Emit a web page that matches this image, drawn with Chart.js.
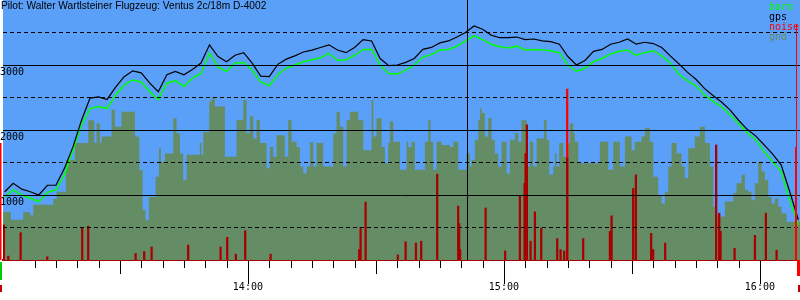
<!DOCTYPE html>
<html><head><meta charset="utf-8">
<script src="https://cdn.jsdelivr.net/npm/chart.js@4.4.1/dist/chart.umd.min.js"></script>
<style>html,body{margin:0;padding:0;background:#fff}#wrap{width:800px;height:300px;position:relative}</style>
</head><body><div id="wrap"><canvas id="c" width="800" height="300"></canvas></div>
<script>
const chartTitle = 'Pilot: Walter Wartlsteiner Flugzeug: Ventus 2c/18m D-4002';
const legendNames = ['baro', 'gps', 'noise', 'gnd'];
const yLabelValues = [1000, 2000, 3000];
const hourLabels = ['14:00', '15:00', '16:00'];
const viewStart = '13:02:36';
const viewEnd = '16:09:24';
const cursorTime = '14:51:20';
const noisePeakLimit = 2500;

const trackTimes = ['13:03','13:05','13:07','13:09','13:11','13:13','13:15','13:17','13:19','13:21','13:23','13:25','13:27','13:29','13:31','13:33','13:35','13:37','13:39','13:41','13:43','13:45','13:47','13:49','13:51','13:53','13:55','13:57','13:59','14:01','14:03','14:05','14:07','14:09','14:11','14:13','14:15','14:17','14:19','14:21','14:23','14:25','14:27','14:29','14:31','14:33','14:35','14:37','14:39','14:41','14:43','14:45','14:47','14:49','14:51','14:53','14:55','14:57','14:59','15:01','15:03','15:05','15:07','15:09','15:11','15:13','15:15','15:17','15:19','15:21','15:23','15:25','15:27','15:29','15:31','15:33','15:35','15:37','15:39','15:41','15:43','15:45','15:47','15:49','15:51','15:53','15:55','15:57','15:59','16:01','16:03','16:05','16:07','16:09'];

const gpsAlt = [1050,1180,1090,1050,1000,1150,1150,1410,1740,2150,2490,2510,2470,2660,2820,2910,2880,2720,2590,2850,2900,2850,2930,
  3030,3310,3130,3050,3150,3190,3030,2830,2820,3010,3090,3140,3200,3230,3270,3310,3230,3190,3270,3390,3370,3100,2990,3000,
  3040,3100,3240,3270,3340,3370,3430,3500,3600,3550,3460,3420,3420,3430,3390,3400,3370,3360,3320,3130,3000,3070,3210,
  3240,3320,3350,3400,3320,3350,3330,3270,3140,3020,2890,2780,2640,2530,2430,2310,2150,2010,1910,1770,1630,1460,1050,620];

const baroAlt = [970,1080,1000,950,900,1040,1080,1310,1690,2080,2330,2360,2330,2540,2690,2770,2740,2590,2470,2720,2760,2670,2800,
  2870,3180,2970,2900,3030,3040,2920,2740,2680,2850,2950,3000,3050,3080,3110,3180,3070,3080,3150,3240,3240,3000,2870,2860,
  2920,3000,3120,3160,3230,3240,3290,3370,3450,3390,3320,3280,3260,3290,3230,3240,3230,3220,3190,3000,2900,2950,3050,
  3100,3170,3210,3230,3150,3190,3220,3140,3030,2860,2760,2680,2540,2440,2360,2230,2100,1960,1850,1670,1510,1360,920,540];

const gndTimes = ['13:01:53','13:04:27','13:07:20','13:08:55','13:09:41','13:14:23','13:15:10','13:17:20','13:19:27','13:22:35','13:23:59','13:24:32','13:25:19','13:25:42','13:28:03','13:28:50','13:30:23','13:33:31','13:34:32','13:35:19','13:36:01','13:36:48','13:38:22','13:39:08','13:39:37','13:40:33','13:42:30','13:43:17','13:44:04','13:44:50','13:45:38','13:46:48',
  '13:48:45','13:49:08','13:49:32','13:50:56','13:51:29','13:52:16','13:54:37','13:57:20','13:58:55','13:59:41','14:00:28','14:01:15','14:02:02','14:02:49','14:04:23','14:05:09','14:05:56','14:06:43','14:08:40','14:09:27','14:10:14','14:11:24','14:12:11','14:12:58','14:13:45','14:14:32','14:15:19','14:16:05','14:17:39','14:20:00','14:20:47','14:21:34','14:22:20','14:23:08','14:23:54','14:25:52','14:27:02','14:28:59','14:29:23','14:30:09','14:31:20','14:32:07','14:32:53','14:33:17','14:34:04',
  '14:35:38','14:37:11','14:37:35','14:38:22','14:39:08','14:41:29','14:42:16','14:42:49','14:43:26','14:44:13','14:45:23','14:47:20','14:48:08','14:49:18','14:51:15','14:52:02','14:52:25','14:53:12','14:53:59','14:54:23','14:54:46','14:55:33','14:56:20','14:57:07','14:57:53','14:58:40','14:59:27','15:00:38','15:01:25','15:02:35','15:03:22','15:04:08','15:05:19','15:06:05','15:06:53','15:07:40','15:09:23','15:10:00','15:10:38','15:11:34','15:11:57','15:12:20','15:12:58','15:13:55','15:14:41','15:15:28','15:16:15','15:16:38','15:17:25',
  '15:22:30','15:24:27','15:25:38','15:27:11','15:28:22','15:29:55','15:30:42','15:32:16','15:33:03','15:34:13','15:35:00','15:36:10','15:36:57','15:37:44','15:38:31','15:39:18','15:40:28','15:41:38','15:42:25','15:43:12','15:44:46','15:45:56','15:47:07','15:48:17','15:49:04','15:49:50','15:50:38','15:51:48','15:53:45','15:54:32','15:55:42','15:56:29','15:57:16','15:58:03','15:58:50','15:59:37','16:00:23','16:01:10','16:01:57','16:02:44','16:03:31','16:04:18','16:05:05','16:06:15','16:07:49','16:09:30'];
const gndAlt = [620,740,620,740,690,850,940,1050,1540,1800,2150,1800,2100,1800,1900,2310,2050,2280,1900,1390,770,620,970,1280,1720,1510,1640,2180,1950,1640,1230,1620,
  1620,1800,1620,1970,2440,2490,2360,1590,2150,2460,1950,2210,1870,2150,1800,1410,1740,1590,1920,1590,2150,1820,1740,1440,1330,1440,1810,1440,1800,1440,1950,2280,2050,1440,2150,2280,2150,1690,2460,1900,2180,1740,1490,1800,2130,
  1820,1390,1820,1740,1820,1390,1820,2150,1820,1390,1820,1770,1740,1820,1390,1640,1440,1540,1850,2150,2330,2260,1900,2180,1850,1640,1440,1820,1330,1850,1950,1820,2150,1440,1820,1440,1870,2150,1850,1310,1440,1640,1440,1800,1590,1800,2100,1950,1820,
  1490,1820,1390,1820,1440,1900,1690,1820,1900,2030,1820,1280,1000,870,1050,1440,1800,1640,1440,1260,1720,1900,2050,1800,1440,820,690,670,900,1030,1180,1310,1080,1050,920,1180,1510,1360,1230,970,870,950,820,720,590,590];

const noiseTimes = ['13:02:49','13:03:50','13:06:44','13:12:58','13:21:10','13:22:34','13:33:41','13:35:42','13:37:26','13:46:00','13:53:36','13:55:09','13:57:11','13:59:22','14:05:19','14:26:05','14:26:25','14:27:35','14:35:09','14:36:58','14:39:23','14:40:37','14:44:22','14:49:17','14:49:31','14:49:45','14:55:43','15:00:18','15:03:45','15:04:51','15:05:05','15:05:23','15:06:15','15:07:16','15:08:45','15:12:30','15:13:17','15:14:08','15:14:50','15:14:50','15:18:35','15:24:51','15:25:14','15:30:18','15:30:56','15:34:31','15:34:59','15:37:48','15:49:45','15:50:28','15:50:47','15:54:04','15:58:50','16:01:24','16:03:55'];
const noiseLevel = [540,60,420,50,490,520,100,130,200,230,200,350,90,450,90,160,500,890,80,280,260,290,1320,830,560,160,800,140,990,1180,1640,2080,290,740,490,330,160,140,2630,1570,330,440,680,1100,1310,410,160,260,1770,720,440,180,380,720,150];

const toMin = s => { const p = s.split(':').map(Number); return p[0]*60 + p[1] + (p[2]||0)/60; };
const pts = (times, vals) => times.map((t,i) => ({x: toMin(t), y: vals[i]}));

const colors = {bg:'#5a9ff8', gnd:'#658d65', noise:'#a80000', noisePeak:'#ff0000', baro:'#00ff00', gps:'#000000', noiseLegend:'#ff0000'};

const bgPlugin = {
  id:'bg',
  beforeDraw(chart){
    const {ctx, chartArea:a} = chart;
    ctx.save();
    ctx.fillStyle = '#fff'; ctx.fillRect(0,0,chart.width,chart.height);
    ctx.fillStyle = colors.bg; ctx.fillRect(a.left, a.top, a.right-a.left, a.bottom-a.top);
    ctx.restore();
  }
};

const overlayPlugin = {
  id:'overlay',
  afterDraw(chart){
    const {ctx, chartArea:a, scales:{x, y}} = chart;
    ctx.save();
    ctx.strokeStyle = '#000'; ctx.lineWidth = 1;
    x.ticks.forEach(t => {
      const v = t.value;
      const m = Math.round(v);
      if (Math.abs(v - m) > 1e-6 || m % 5 !== 0) return;
      const len = m % 60 === 0 ? 23 : (m % 30 === 0 ? 13 : 7);
      const px = Math.round(x.getPixelForValue(m)) + 0.5;
      ctx.beginPath(); ctx.moveTo(px, a.bottom+1); ctx.lineTo(px, a.bottom+1+len); ctx.stroke();
    });
    const cx = Math.round(x.getPixelForValue(toMin(cursorTime))) + 0.5;
    ctx.beginPath(); ctx.moveTo(cx, a.top); ctx.lineTo(cx, a.bottom); ctx.stroke();
    const y1800 = y.getPixelForValue(1800);
    ctx.fillStyle = '#ff0000';
    ctx.fillRect(0, y1800, 1.5, a.bottom - y1800);
    ctx.fillStyle = '#00d000';
    ctx.fillRect(0, a.bottom+2, 2, 18);
    ctx.fillStyle = '#c00000';
    ctx.fillRect(0, a.bottom+25, 2, 7);
    ctx.fillStyle = '#ff0000';
    ctx.fillRect(a.right-4, 25, 1, a.bottom-25);
    const y1740 = y.getPixelForValue(1740);
    ctx.fillRect(a.right-5, y1740, 2, a.bottom - y1740);
    ctx.fillRect(a.right-3, a.bottom, 3, 16);
    ctx.fillStyle = '#c00000';
    ctx.fillRect(a.right-2, a.bottom+25, 2, 7);
    ctx.fillStyle = '#000';
    ctx.font = '10.2px "Liberation Sans", Arial, sans-serif';
    ctx.textBaseline = 'top'; ctx.textAlign = 'left';
    ctx.fillText(chartTitle, 1, 1);
    const legCols = [colors.baro, colors.gps, colors.noiseLegend, colors.gnd];
    ctx.font = '10px "DejaVu Sans Mono", monospace';
    legendNames.forEach((n,i) => { ctx.fillStyle = legCols[i]; ctx.fillText(n, 769, 2 + i*10); });
    ctx.restore();
  }
};

new Chart(document.getElementById('c'), {
  type:'line',
  data:{datasets:[
    {label:'gps', data:pts(trackTimes, gpsAlt), borderColor:colors.gps, borderWidth:1.2, pointRadius:0, order:1},
    {label:'baro', data:pts(trackTimes, baroAlt), borderColor:colors.baro, borderWidth:1.5, pointRadius:0, order:2},
    {type:'bar', label:'noise', data:pts(noiseTimes, noiseLevel),
      backgroundColor:(c) => (c.raw && c.raw.y > noisePeakLimit) ? colors.noisePeak : colors.noise,
      barThickness:1.6, order:3},
    {label:'gnd', data:pts(gndTimes, gndAlt), borderWidth:0, borderColor:colors.gnd, backgroundColor:colors.gnd, fill:'origin', stepped:'after', pointRadius:0, order:4}
  ]},
  options:{
    responsive:false, animation:false, events:[],
    layout:{padding:{left:3, top:0, right:0, bottom:0}},
    plugins:{legend:{display:false}, tooltip:{enabled:false}, title:{display:false}},
    scales:{
      x:{type:'linear', min:toMin(viewStart), max:toMin(viewEnd), offset:false,
        grid:{display:true, drawOnChartArea:false, drawTicks:false},
        border:{display:true, color:colors.noise, width:2},
        ticks:{stepSize:5, autoSkip:false, maxRotation:0, padding:21, color:'#000',
          font:{family:'DejaVu Sans Mono', size:10},
          callback:(v) => { const m = Math.round(v); if (Math.abs(v-m) > 1e-6 || m % 60) return ''; const lbl = hourLabels.find(h => toMin(h) === m); return lbl || ''; }},
        afterFit:(s) => { s.height = 40; s.paddingLeft = 0; s.paddingRight = 0; }
      },
      y:{min:0, max:4000,
        grid:{color:'#000', lineWidth:1, drawTicks:false, z:1},
        border:{display:false, dash:(c) => (c.tick && c.tick.value % 1000 !== 0) ? [4,3] : []},
        ticks:{stepSize:500, mirror:true, padding:-3, labelOffset:7, color:'#000',
          font:{family:'DejaVu Sans Mono', size:10},
          callback:(v) => { if (v <= 0 || v >= 4000) return null; return yLabelValues.includes(v) ? String(v) : ''; }},
        afterFit:(s) => { s.width = 0; s.paddingTop = 0; s.paddingBottom = 0; }
      }
    }
  },
  plugins:[bgPlugin, overlayPlugin]
});
</script></body></html>
